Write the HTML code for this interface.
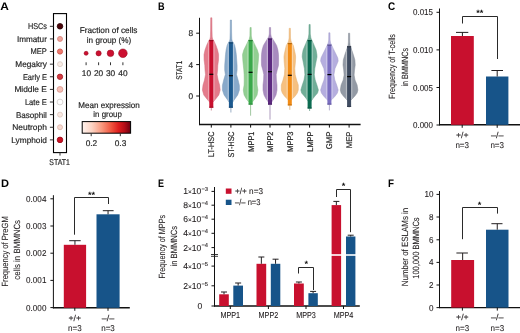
<!DOCTYPE html>
<html><head><meta charset="utf-8"><style>
html,body{margin:0;padding:0;background:#fff;width:520px;height:333px;overflow:hidden}
svg{display:block;will-change:transform}
text{font-family:"Liberation Sans", sans-serif;text-rendering:geometricPrecision}
</style></head><body>
<svg width="520" height="333" viewBox="0 0 520 333">
<rect width="520" height="333" fill="#fff"/>
<text x="0.20" y="9.70" font-size="11" text-anchor="start" fill="#000" font-weight="bold" textLength="8.6" lengthAdjust="spacingAndGlyphs" >A</text>
<text x="158.10" y="9.70" font-size="11" text-anchor="start" fill="#000" font-weight="bold" textLength="6.6" lengthAdjust="spacingAndGlyphs" >B</text>
<text x="388.10" y="9.70" font-size="11" text-anchor="start" fill="#000" font-weight="bold" textLength="7.2" lengthAdjust="spacingAndGlyphs" >C</text>
<text x="0.90" y="186.60" font-size="11" text-anchor="start" fill="#000" font-weight="bold" textLength="8.0" lengthAdjust="spacingAndGlyphs" >D</text>
<text x="158.10" y="186.60" font-size="11" text-anchor="start" fill="#000" font-weight="bold" textLength="6.0" lengthAdjust="spacingAndGlyphs" >E</text>
<text x="388.10" y="186.60" font-size="11" text-anchor="start" fill="#000" font-weight="bold" textLength="6.0" lengthAdjust="spacingAndGlyphs" >F</text>
<rect x="53.5" y="13.6" width="13.0" height="139.0" fill="none" stroke="#000" stroke-width="1.1"/>
<line x1="49.90" y1="26.30" x2="53.50" y2="26.30" stroke="#333" stroke-width="1.0"/>
<text x="46.90" y="29.20" font-size="8.3" text-anchor="end" fill="#252525" textLength="19.0" lengthAdjust="spacingAndGlyphs" stroke="#252525" stroke-width="0.18" >HSCs</text>
<circle cx="60.0" cy="26.30" r="2.8" fill="#4a0509" stroke="#2a0205" stroke-width="0.8"/>
<line x1="49.90" y1="38.92" x2="53.50" y2="38.92" stroke="#333" stroke-width="1.0"/>
<text x="46.90" y="41.82" font-size="8.3" text-anchor="end" fill="#252525" textLength="30.0" lengthAdjust="spacingAndGlyphs" stroke="#252525" stroke-width="0.18" >Immatur</text>
<circle cx="60.0" cy="38.92" r="2.5" fill="#eea59c" stroke="#d47c74" stroke-width="0.8"/>
<line x1="49.90" y1="51.54" x2="53.50" y2="51.54" stroke="#333" stroke-width="1.0"/>
<text x="46.90" y="54.44" font-size="8.3" text-anchor="end" fill="#252525" textLength="16.3" lengthAdjust="spacingAndGlyphs" stroke="#252525" stroke-width="0.18" >MEP</text>
<circle cx="60.0" cy="51.54" r="2.6" fill="#ee7a6e" stroke="#cc5248" stroke-width="0.8"/>
<line x1="49.90" y1="64.16" x2="53.50" y2="64.16" stroke="#333" stroke-width="1.0"/>
<text x="46.90" y="67.06" font-size="8.3" text-anchor="end" fill="#252525" textLength="31.6" lengthAdjust="spacingAndGlyphs" stroke="#252525" stroke-width="0.18" >Megakry</text>
<circle cx="60.0" cy="64.16" r="2.5" fill="#f8ede6" stroke="#d8c8c0" stroke-width="0.8"/>
<line x1="49.90" y1="76.78" x2="53.50" y2="76.78" stroke="#333" stroke-width="1.0"/>
<text x="46.90" y="79.68" font-size="8.3" text-anchor="end" fill="#252525" textLength="24.0" lengthAdjust="spacingAndGlyphs" stroke="#252525" stroke-width="0.18" >Early E</text>
<circle cx="60.0" cy="76.78" r="2.7" fill="#d23a40" stroke="#a41e26" stroke-width="0.8"/>
<line x1="49.90" y1="89.40" x2="53.50" y2="89.40" stroke="#333" stroke-width="1.0"/>
<text x="46.90" y="92.30" font-size="8.3" text-anchor="end" fill="#252525" textLength="32.5" lengthAdjust="spacingAndGlyphs" stroke="#252525" stroke-width="0.18" >Middle E</text>
<circle cx="60.0" cy="89.40" r="2.9" fill="#f4c0b6" stroke="#d8948a" stroke-width="0.8"/>
<line x1="49.90" y1="102.02" x2="53.50" y2="102.02" stroke="#333" stroke-width="1.0"/>
<text x="46.90" y="104.92" font-size="8.3" text-anchor="end" fill="#252525" textLength="22.0" lengthAdjust="spacingAndGlyphs" stroke="#252525" stroke-width="0.18" >Late E</text>
<circle cx="60.0" cy="102.02" r="2.9" fill="#ffffff" stroke="#cfcac8" stroke-width="0.8"/>
<line x1="49.90" y1="114.64" x2="53.50" y2="114.64" stroke="#333" stroke-width="1.0"/>
<text x="46.90" y="117.54" font-size="8.3" text-anchor="end" fill="#252525" textLength="31.0" lengthAdjust="spacingAndGlyphs" stroke="#252525" stroke-width="0.18" >Basophil</text>
<circle cx="60.0" cy="114.64" r="2.5" fill="#f9e9e2" stroke="#dcc6bd" stroke-width="0.8"/>
<line x1="49.90" y1="127.26" x2="53.50" y2="127.26" stroke="#333" stroke-width="1.0"/>
<text x="46.90" y="130.16" font-size="8.3" text-anchor="end" fill="#252525" textLength="34.6" lengthAdjust="spacingAndGlyphs" stroke="#252525" stroke-width="0.18" >Neutroph</text>
<circle cx="60.0" cy="127.26" r="2.5" fill="#f6dbd2" stroke="#ddb2a6" stroke-width="0.8"/>
<line x1="49.90" y1="139.88" x2="53.50" y2="139.88" stroke="#333" stroke-width="1.0"/>
<text x="46.90" y="142.78" font-size="8.3" text-anchor="end" fill="#252525" textLength="35.6" lengthAdjust="spacingAndGlyphs" stroke="#252525" stroke-width="0.18" >Lymphoid</text>
<circle cx="60.0" cy="139.88" r="2.8" fill="#cc1224" stroke="#940a18" stroke-width="0.8"/>
<line x1="60.00" y1="152.60" x2="60.00" y2="155.60" stroke="#333" stroke-width="1.0"/>
<text x="59.60" y="165.00" font-size="8.3" text-anchor="middle" fill="#252525" textLength="20.5" lengthAdjust="spacingAndGlyphs" stroke="#252525" stroke-width="0.18" >STAT1</text>
<text x="108.60" y="33.20" font-size="8.3" text-anchor="middle" fill="#252525" textLength="57.7" lengthAdjust="spacingAndGlyphs" stroke="#252525" stroke-width="0.18" >Fraction of cells</text>
<text x="109.00" y="42.90" font-size="8.3" text-anchor="middle" fill="#252525" textLength="44.4" lengthAdjust="spacingAndGlyphs" stroke="#252525" stroke-width="0.18" >in group (%)</text>
<circle cx="86.1" cy="53.3" r="2.0" fill="#cc1030" stroke="#9a0a20" stroke-width="0.6"/>
<line x1="86.10" y1="62.30" x2="86.10" y2="65.20" stroke="#333" stroke-width="1.0"/>
<circle cx="98.6" cy="53.3" r="2.6" fill="#cc1030" stroke="#9a0a20" stroke-width="0.6"/>
<line x1="98.60" y1="62.30" x2="98.60" y2="65.20" stroke="#333" stroke-width="1.0"/>
<circle cx="110.5" cy="53.3" r="3.3" fill="#cc1030" stroke="#9a0a20" stroke-width="0.6"/>
<line x1="110.50" y1="62.30" x2="110.50" y2="65.20" stroke="#333" stroke-width="1.0"/>
<circle cx="122.9" cy="53.3" r="4.3" fill="#cc1030" stroke="#9a0a20" stroke-width="0.6"/>
<line x1="122.90" y1="62.30" x2="122.90" y2="65.20" stroke="#333" stroke-width="1.0"/>
<text x="86.40" y="75.50" font-size="8.3" text-anchor="middle" fill="#252525" stroke="#252525" stroke-width="0.18" >10</text>
<text x="98.60" y="75.50" font-size="8.3" text-anchor="middle" fill="#252525" stroke="#252525" stroke-width="0.18" >20</text>
<text x="110.50" y="75.50" font-size="8.3" text-anchor="middle" fill="#252525" stroke="#252525" stroke-width="0.18" >30</text>
<text x="122.90" y="75.50" font-size="8.3" text-anchor="middle" fill="#252525" stroke="#252525" stroke-width="0.18" >40</text>
<text x="109.00" y="107.90" font-size="8.3" text-anchor="middle" fill="#252525" textLength="61.5" lengthAdjust="spacingAndGlyphs" stroke="#252525" stroke-width="0.18" >Mean expression</text>
<text x="107.60" y="116.90" font-size="8.3" text-anchor="middle" fill="#252525" textLength="28.5" lengthAdjust="spacingAndGlyphs" stroke="#252525" stroke-width="0.18" >in group</text>
<defs><linearGradient id="cb" x1="0" x2="1" y1="0" y2="0"><stop offset="0" stop-color="#fff3ee"/><stop offset="0.2" stop-color="#fcd3c3"/><stop offset="0.4" stop-color="#f99a80"/><stop offset="0.6" stop-color="#f0553f"/><stop offset="0.75" stop-color="#de1e1e"/><stop offset="0.88" stop-color="#b30c17"/><stop offset="1" stop-color="#6a0010"/></linearGradient></defs>
<rect x="82.2" y="121.6" width="48.4" height="11.6" fill="url(#cb)" stroke="#000" stroke-width="1.0"/>
<line x1="91.20" y1="133.40" x2="91.20" y2="136.20" stroke="#333" stroke-width="1.0"/>
<line x1="120.30" y1="133.40" x2="120.30" y2="136.20" stroke="#333" stroke-width="1.0"/>
<text x="91.40" y="146.00" font-size="8.3" text-anchor="middle" fill="#252525" stroke="#252525" stroke-width="0.18" >0.2</text>
<text x="120.50" y="146.00" font-size="8.3" text-anchor="middle" fill="#252525" stroke="#252525" stroke-width="0.18" >0.3</text>
<line x1="199.50" y1="17.80" x2="199.50" y2="125.10" stroke="#111" stroke-width="1.0"/>
<line x1="199.00" y1="124.60" x2="360.60" y2="124.60" stroke="#111" stroke-width="1.5"/>
<line x1="196.20" y1="96.00" x2="199.50" y2="96.00" stroke="#111" stroke-width="1.0"/>
<text x="193.20" y="99.00" font-size="8.3" text-anchor="end" fill="#252525" stroke="#252525" stroke-width="0.18" >0</text>
<line x1="196.20" y1="64.60" x2="199.50" y2="64.60" stroke="#111" stroke-width="1.0"/>
<text x="193.20" y="67.60" font-size="8.3" text-anchor="end" fill="#252525" stroke="#252525" stroke-width="0.18" >4</text>
<line x1="196.20" y1="33.20" x2="199.50" y2="33.20" stroke="#111" stroke-width="1.0"/>
<text x="193.20" y="36.20" font-size="8.3" text-anchor="end" fill="#252525" stroke="#252525" stroke-width="0.18" >8</text>
<text x="182.30" y="70.30" font-size="8.3" text-anchor="middle" fill="#252525" textLength="19" lengthAdjust="spacingAndGlyphs" transform="rotate(-90 182.30 70.30)" stroke="#252525" stroke-width="0.18" >STAT1</text>
<clipPath id="vc0"><polygon points="211.90,17.80 212.00,30.00 212.20,37.00 212.60,39.00 213.70,40.50 216.00,45.40 217.60,50.00 218.60,54.60 218.50,60.00 217.80,65.40 217.60,70.00 217.10,74.60 218.10,80.00 219.60,85.00 220.20,90.00 218.80,95.00 215.50,99.20 213.50,101.50 211.90,103.00 210.70,103.00 209.10,101.50 207.10,99.20 203.80,95.00 202.40,90.00 203.00,85.00 204.50,80.00 205.50,74.60 205.00,70.00 204.80,65.40 204.10,60.00 204.00,54.60 205.00,50.00 206.60,45.40 208.90,40.50 210.00,39.00 210.40,37.00 210.60,30.00 210.70,17.80"/></clipPath>
<polygon points="211.90,17.80 212.00,30.00 212.20,37.00 212.60,39.00 213.70,40.50 216.00,45.40 217.60,50.00 218.60,54.60 218.50,60.00 217.80,65.40 217.60,70.00 217.10,74.60 218.10,80.00 219.60,85.00 220.20,90.00 218.80,95.00 215.50,99.20 213.50,101.50 211.90,103.00 210.70,103.00 209.10,101.50 207.10,99.20 203.80,95.00 202.40,90.00 203.00,85.00 204.50,80.00 205.50,74.60 205.00,70.00 204.80,65.40 204.10,60.00 204.00,54.60 205.00,50.00 206.60,45.40 208.90,40.50 210.00,39.00 210.40,37.00 210.60,30.00 210.70,17.80" fill="#e47b8b" stroke="#d1717f" stroke-width="0.5" stroke-linejoin="round"/>
<rect x="208.10" y="40.00" width="6.4" height="67.70" fill="#eda9b3" clip-path="url(#vc0)"/>
<line x1="211.30" y1="107.70" x2="211.30" y2="110.50" stroke="#ca7784" stroke-width="0.8"/>
<rect x="209.30" y="40.00" width="4.00" height="67.70" fill="#c8102e" />
<rect x="209.30" y="40.00" width="4.00" height="1.20" fill="#960c22" />
<rect x="209.30" y="106.70" width="4.00" height="1.00" fill="#a00c24" />
<line x1="209.30" y1="74.30" x2="213.30" y2="74.30" stroke="#000" stroke-width="1.2"/>
<line x1="211.30" y1="124.60" x2="211.30" y2="127.60" stroke="#111" stroke-width="1.0"/>
<text x="214.20" y="131.50" font-size="8.3" text-anchor="end" fill="#252525" textLength="25.5" lengthAdjust="spacingAndGlyphs" transform="rotate(-90 214.20 131.50)" stroke="#252525" stroke-width="0.18" >LT-HSC</text>
<clipPath id="vc1"><polygon points="231.50,20.00 231.60,32.00 231.80,39.00 232.20,41.00 233.30,42.50 234.70,45.40 235.70,50.00 236.30,54.60 236.70,60.00 237.10,65.40 237.10,70.00 236.50,74.60 238.10,80.00 239.40,85.40 239.40,90.00 237.70,95.00 234.70,99.20 232.70,102.00 231.50,103.50 230.30,103.50 229.10,102.00 227.10,99.20 224.10,95.00 222.40,90.00 222.40,85.40 223.70,80.00 225.30,74.60 224.70,70.00 224.70,65.40 225.10,60.00 225.50,54.60 226.10,50.00 227.10,45.40 228.50,42.50 229.60,41.00 230.00,39.00 230.20,32.00 230.30,20.00"/></clipPath>
<polygon points="231.50,20.00 231.60,32.00 231.80,39.00 232.20,41.00 233.30,42.50 234.70,45.40 235.70,50.00 236.30,54.60 236.70,60.00 237.10,65.40 237.10,70.00 236.50,74.60 238.10,80.00 239.40,85.40 239.40,90.00 237.70,95.00 234.70,99.20 232.70,102.00 231.50,103.50 230.30,103.50 229.10,102.00 227.10,99.20 224.10,95.00 222.40,90.00 222.40,85.40 223.70,80.00 225.30,74.60 224.70,70.00 224.70,65.40 225.10,60.00 225.50,54.60 226.10,50.00 227.10,45.40 228.50,42.50 229.60,41.00 230.00,39.00 230.20,32.00 230.30,20.00" fill="#88a9ca" stroke="#7d9bb9" stroke-width="0.5" stroke-linejoin="round"/>
<rect x="227.70" y="42.30" width="6.4" height="65.40" fill="#b1c7dc" clip-path="url(#vc1)"/>
<line x1="230.90" y1="107.70" x2="230.90" y2="112.50" stroke="#819bb6" stroke-width="0.8"/>
<rect x="228.90" y="42.30" width="4.00" height="65.40" fill="#1d5a8f" />
<rect x="228.90" y="42.30" width="4.00" height="1.20" fill="#15436b" />
<rect x="228.90" y="106.70" width="4.00" height="1.00" fill="#174872" />
<line x1="228.90" y1="75.70" x2="232.90" y2="75.70" stroke="#000" stroke-width="1.2"/>
<line x1="230.90" y1="124.60" x2="230.90" y2="127.60" stroke="#111" stroke-width="1.0"/>
<text x="233.80" y="131.50" font-size="8.3" text-anchor="end" fill="#252525" textLength="26.0" lengthAdjust="spacingAndGlyphs" transform="rotate(-90 233.80 131.50)" stroke="#252525" stroke-width="0.18" >ST-HSC</text>
<clipPath id="vc2"><polygon points="251.20,27.50 251.30,36.00 251.90,39.00 253.00,41.00 255.20,45.40 257.40,50.00 258.70,54.60 258.40,60.00 257.90,65.40 257.40,70.00 257.10,74.60 257.00,80.00 257.10,85.00 257.90,90.00 257.10,95.00 254.80,99.00 252.80,101.50 251.40,103.00 249.80,103.00 248.40,101.50 246.40,99.00 244.10,95.00 243.30,90.00 244.10,85.00 244.20,80.00 244.10,74.60 243.80,70.00 243.30,65.40 242.80,60.00 242.50,54.60 243.80,50.00 246.00,45.40 248.20,41.00 249.30,39.00 249.90,36.00 250.00,27.50"/></clipPath>
<polygon points="251.20,27.50 251.30,36.00 251.90,39.00 253.00,41.00 255.20,45.40 257.40,50.00 258.70,54.60 258.40,60.00 257.90,65.40 257.40,70.00 257.10,74.60 257.00,80.00 257.10,85.00 257.90,90.00 257.10,95.00 254.80,99.00 252.80,101.50 251.40,103.00 249.80,103.00 248.40,101.50 246.40,99.00 244.10,95.00 243.30,90.00 244.10,85.00 244.20,80.00 244.10,74.60 243.80,70.00 243.30,65.40 242.80,60.00 242.50,54.60 243.80,50.00 246.00,45.40 248.20,41.00 249.30,39.00 249.90,36.00 250.00,27.50" fill="#92cf92" stroke="#86be86" stroke-width="0.5" stroke-linejoin="round"/>
<rect x="247.40" y="40.00" width="6.4" height="64.60" fill="#b8dfb8" clip-path="url(#vc2)"/>
<line x1="250.60" y1="104.60" x2="250.60" y2="115.70" stroke="#89b989" stroke-width="0.8"/>
<rect x="248.60" y="40.00" width="4.00" height="64.60" fill="#3aa94b" />
<rect x="248.60" y="40.00" width="4.00" height="1.20" fill="#2b7e38" />
<rect x="248.60" y="103.60" width="4.00" height="1.00" fill="#2e873c" />
<line x1="248.60" y1="72.30" x2="252.60" y2="72.30" stroke="#000" stroke-width="1.2"/>
<line x1="250.60" y1="124.60" x2="250.60" y2="127.60" stroke="#111" stroke-width="1.0"/>
<text x="253.50" y="131.50" font-size="8.3" text-anchor="end" fill="#252525" textLength="20.2" lengthAdjust="spacingAndGlyphs" transform="rotate(-90 253.50 131.50)" stroke="#252525" stroke-width="0.18" >MPP1</text>
<clipPath id="vc3"><polygon points="270.60,27.50 270.70,34.00 271.30,37.00 273.00,39.50 276.60,45.40 277.90,50.00 278.50,54.60 278.60,60.00 278.50,65.40 277.20,70.00 276.20,74.60 276.40,80.00 277.00,85.00 277.00,90.00 276.00,95.00 273.90,99.00 272.00,101.50 270.80,103.00 269.20,103.00 268.00,101.50 266.10,99.00 264.00,95.00 263.00,90.00 263.00,85.00 263.60,80.00 263.80,74.60 262.80,70.00 261.50,65.40 261.40,60.00 261.50,54.60 262.10,50.00 263.40,45.40 267.00,39.50 268.70,37.00 269.30,34.00 269.40,27.50"/></clipPath>
<polygon points="270.60,27.50 270.70,34.00 271.30,37.00 273.00,39.50 276.60,45.40 277.90,50.00 278.50,54.60 278.60,60.00 278.50,65.40 277.20,70.00 276.20,74.60 276.40,80.00 277.00,85.00 277.00,90.00 276.00,95.00 273.90,99.00 272.00,101.50 270.80,103.00 269.20,103.00 268.00,101.50 266.10,99.00 264.00,95.00 263.00,90.00 263.00,85.00 263.60,80.00 263.80,74.60 262.80,70.00 261.50,65.40 261.40,60.00 261.50,54.60 262.10,50.00 263.40,45.40 267.00,39.50 268.70,37.00 269.30,34.00 269.40,27.50" fill="#a88bbf" stroke="#9a7faf" stroke-width="0.5" stroke-linejoin="round"/>
<rect x="266.80" y="38.50" width="6.4" height="66.10" fill="#c6b3d5" clip-path="url(#vc3)"/>
<line x1="270.00" y1="104.60" x2="270.00" y2="119.60" stroke="#9a84ad" stroke-width="0.8"/>
<rect x="268.00" y="38.50" width="4.00" height="66.10" fill="#5c2a7f" />
<rect x="268.00" y="38.50" width="4.00" height="1.20" fill="#451f5f" />
<rect x="268.00" y="103.60" width="4.00" height="1.00" fill="#492165" />
<line x1="268.00" y1="71.70" x2="272.00" y2="71.70" stroke="#000" stroke-width="1.2"/>
<line x1="270.00" y1="124.60" x2="270.00" y2="127.60" stroke="#111" stroke-width="1.0"/>
<text x="272.90" y="131.50" font-size="8.3" text-anchor="end" fill="#252525" textLength="20.2" lengthAdjust="spacingAndGlyphs" transform="rotate(-90 272.90 131.50)" stroke="#252525" stroke-width="0.18" >MPP2</text>
<clipPath id="vc4"><polygon points="290.40,28.30 290.50,38.00 291.00,41.00 291.80,43.00 293.30,45.40 294.40,50.00 295.40,54.60 295.65,57.00 295.40,62.00 294.80,68.50 295.20,74.80 296.60,80.00 298.30,85.00 298.30,90.00 297.30,93.00 295.20,96.00 292.80,98.50 291.00,100.00 290.40,101.00 289.20,101.00 288.60,100.00 286.80,98.50 284.40,96.00 282.30,93.00 281.30,90.00 281.30,85.00 283.00,80.00 284.40,74.80 284.80,68.50 284.20,62.00 283.95,57.00 284.20,54.60 285.20,50.00 286.30,45.40 287.80,43.00 288.60,41.00 289.10,38.00 289.20,28.30"/></clipPath>
<polygon points="290.40,28.30 290.50,38.00 291.00,41.00 291.80,43.00 293.30,45.40 294.40,50.00 295.40,54.60 295.65,57.00 295.40,62.00 294.80,68.50 295.20,74.80 296.60,80.00 298.30,85.00 298.30,90.00 297.30,93.00 295.20,96.00 292.80,98.50 291.00,100.00 290.40,101.00 289.20,101.00 288.60,100.00 286.80,98.50 284.40,96.00 282.30,93.00 281.30,90.00 281.30,85.00 283.00,80.00 284.40,74.80 284.80,68.50 284.20,62.00 283.95,57.00 284.20,54.60 285.20,50.00 286.30,45.40 287.80,43.00 288.60,41.00 289.10,38.00 289.20,28.30" fill="#f6c080" stroke="#e2b075" stroke-width="0.5" stroke-linejoin="round"/>
<rect x="286.60" y="43.00" width="6.4" height="62.40" fill="#f9d6ac" clip-path="url(#vc4)"/>
<line x1="289.80" y1="105.40" x2="289.80" y2="109.80" stroke="#d8ae7b" stroke-width="0.8"/>
<rect x="287.80" y="43.00" width="4.00" height="62.40" fill="#f28c16" />
<rect x="287.80" y="43.00" width="4.00" height="1.20" fill="#b56910" />
<rect x="287.80" y="104.40" width="4.00" height="1.00" fill="#c17011" />
<line x1="287.80" y1="75.30" x2="291.80" y2="75.30" stroke="#000" stroke-width="1.2"/>
<line x1="289.80" y1="124.60" x2="289.80" y2="127.60" stroke="#111" stroke-width="1.0"/>
<text x="292.70" y="131.50" font-size="8.3" text-anchor="end" fill="#252525" textLength="20.2" lengthAdjust="spacingAndGlyphs" transform="rotate(-90 292.70 131.50)" stroke="#252525" stroke-width="0.18" >MPP3</text>
<clipPath id="vc5"><polygon points="310.20,24.50 310.30,34.00 310.90,38.00 312.00,40.50 314.20,45.40 316.10,50.00 316.90,54.60 317.00,57.00 316.00,62.00 314.80,68.50 314.30,74.80 315.20,80.00 316.90,85.00 318.40,90.00 317.60,93.00 315.00,96.00 312.60,99.00 310.80,101.50 310.20,102.50 309.00,102.50 308.40,101.50 306.60,99.00 304.20,96.00 301.60,93.00 300.80,90.00 302.30,85.00 304.00,80.00 304.90,74.80 304.40,68.50 303.20,62.00 302.20,57.00 302.30,54.60 303.10,50.00 305.00,45.40 307.20,40.50 308.30,38.00 308.90,34.00 309.00,24.50"/></clipPath>
<polygon points="310.20,24.50 310.30,34.00 310.90,38.00 312.00,40.50 314.20,45.40 316.10,50.00 316.90,54.60 317.00,57.00 316.00,62.00 314.80,68.50 314.30,74.80 315.20,80.00 316.90,85.00 318.40,90.00 317.60,93.00 315.00,96.00 312.60,99.00 310.80,101.50 310.20,102.50 309.00,102.50 308.40,101.50 306.60,99.00 304.20,96.00 301.60,93.00 300.80,90.00 302.30,85.00 304.00,80.00 304.90,74.80 304.40,68.50 303.20,62.00 302.20,57.00 302.30,54.60 303.10,50.00 305.00,45.40 307.20,40.50 308.30,38.00 308.90,34.00 309.00,24.50" fill="#71ae98" stroke="#67a08b" stroke-width="0.5" stroke-linejoin="round"/>
<rect x="306.40" y="40.00" width="6.4" height="68.50" fill="#a2cabc" clip-path="url(#vc5)"/>
<line x1="309.60" y1="108.50" x2="309.60" y2="111.00" stroke="#6fa08e" stroke-width="0.8"/>
<rect x="307.60" y="40.00" width="4.00" height="68.50" fill="#0d6c52" />
<rect x="307.60" y="40.00" width="4.00" height="1.20" fill="#09513d" />
<rect x="307.60" y="107.50" width="4.00" height="1.00" fill="#0a5641" />
<line x1="307.60" y1="74.40" x2="311.60" y2="74.40" stroke="#000" stroke-width="1.2"/>
<line x1="309.60" y1="124.60" x2="309.60" y2="127.60" stroke="#111" stroke-width="1.0"/>
<text x="312.50" y="131.50" font-size="8.3" text-anchor="end" fill="#252525" textLength="20.2" lengthAdjust="spacingAndGlyphs" transform="rotate(-90 312.50 131.50)" stroke="#252525" stroke-width="0.18" >LMPP</text>
<clipPath id="vc6"><polygon points="330.00,32.80 330.10,40.00 330.60,43.00 331.70,45.40 333.90,50.00 336.20,54.60 337.80,58.00 338.20,61.00 337.00,64.00 335.00,68.50 333.90,74.80 334.80,80.00 336.70,85.00 338.20,90.00 337.40,93.00 335.20,96.00 332.40,99.00 330.60,100.50 330.00,101.50 328.80,101.50 328.20,100.50 326.40,99.00 323.60,96.00 321.40,93.00 320.60,90.00 322.10,85.00 324.00,80.00 324.90,74.80 323.80,68.50 321.80,64.00 320.60,61.00 321.00,58.00 322.60,54.60 324.90,50.00 327.10,45.40 328.20,43.00 328.70,40.00 328.80,32.80"/></clipPath>
<polygon points="330.00,32.80 330.10,40.00 330.60,43.00 331.70,45.40 333.90,50.00 336.20,54.60 337.80,58.00 338.20,61.00 337.00,64.00 335.00,68.50 333.90,74.80 334.80,80.00 336.70,85.00 338.20,90.00 337.40,93.00 335.20,96.00 332.40,99.00 330.60,100.50 330.00,101.50 328.80,101.50 328.20,100.50 326.40,99.00 323.60,96.00 321.40,93.00 320.60,90.00 322.10,85.00 324.00,80.00 324.90,74.80 323.80,68.50 321.80,64.00 320.60,61.00 321.00,58.00 322.60,54.60 324.90,50.00 327.10,45.40 328.20,43.00 328.70,40.00 328.80,32.80" fill="#b5aedf" stroke="#a6a0cd" stroke-width="0.5" stroke-linejoin="round"/>
<rect x="326.20" y="44.60" width="6.4" height="60.00" fill="#cecaea" clip-path="url(#vc6)"/>
<line x1="329.40" y1="104.60" x2="329.40" y2="110.40" stroke="#a5a0c6" stroke-width="0.8"/>
<rect x="327.40" y="44.60" width="4.00" height="60.00" fill="#7b6fc1" />
<rect x="327.40" y="44.60" width="4.00" height="1.20" fill="#5c5390" />
<rect x="327.40" y="103.60" width="4.00" height="1.00" fill="#62589a" />
<line x1="327.40" y1="74.60" x2="331.40" y2="74.60" stroke="#000" stroke-width="1.2"/>
<line x1="329.40" y1="124.60" x2="329.40" y2="127.60" stroke="#111" stroke-width="1.0"/>
<text x="332.30" y="131.50" font-size="8.3" text-anchor="end" fill="#252525" textLength="17.8" lengthAdjust="spacingAndGlyphs" transform="rotate(-90 332.30 131.50)" stroke="#252525" stroke-width="0.18" >GMP</text>
<clipPath id="vc7"><polygon points="349.70,33.20 349.80,42.00 350.10,45.00 350.70,47.00 351.70,50.00 353.30,54.60 354.90,60.00 355.20,65.00 354.50,70.00 354.10,75.00 355.00,80.00 357.10,85.00 357.90,90.00 357.10,93.00 354.90,96.00 352.10,99.00 350.30,100.50 349.70,101.50 348.50,101.50 347.90,100.50 346.10,99.00 343.30,96.00 341.10,93.00 340.30,90.00 341.10,85.00 343.20,80.00 344.10,75.00 343.70,70.00 343.00,65.00 343.30,60.00 344.90,54.60 346.50,50.00 347.50,47.00 348.10,45.00 348.40,42.00 348.50,33.20"/></clipPath>
<polygon points="349.70,33.20 349.80,42.00 350.10,45.00 350.70,47.00 351.70,50.00 353.30,54.60 354.90,60.00 355.20,65.00 354.50,70.00 354.10,75.00 355.00,80.00 357.10,85.00 357.90,90.00 357.10,93.00 354.90,96.00 352.10,99.00 350.30,100.50 349.70,101.50 348.50,101.50 347.90,100.50 346.10,99.00 343.30,96.00 341.10,93.00 340.30,90.00 341.10,85.00 343.20,80.00 344.10,75.00 343.70,70.00 343.00,65.00 343.30,60.00 344.90,54.60 346.50,50.00 347.50,47.00 348.10,45.00 348.40,42.00 348.50,33.20" fill="#939aa5" stroke="#878d97" stroke-width="0.5" stroke-linejoin="round"/>
<rect x="345.90" y="46.20" width="6.4" height="60.70" fill="#b8bdc4" clip-path="url(#vc7)"/>
<line x1="349.10" y1="106.90" x2="349.10" y2="107.50" stroke="#8a9099" stroke-width="0.8"/>
<rect x="347.10" y="46.20" width="4.00" height="60.70" fill="#414d62" />
<rect x="347.10" y="46.20" width="4.00" height="1.20" fill="#303949" />
<rect x="347.10" y="105.90" width="4.00" height="1.00" fill="#343d4e" />
<line x1="347.10" y1="76.60" x2="351.10" y2="76.60" stroke="#000" stroke-width="1.2"/>
<line x1="349.10" y1="124.60" x2="349.10" y2="127.60" stroke="#111" stroke-width="1.0"/>
<text x="352.00" y="131.50" font-size="8.3" text-anchor="end" fill="#252525" textLength="16.8" lengthAdjust="spacingAndGlyphs" transform="rotate(-90 352.00 131.50)" stroke="#252525" stroke-width="0.18" >MEP</text>
<line x1="439.50" y1="8.50" x2="439.50" y2="125.30" stroke="#111" stroke-width="1.0"/>
<line x1="439.00" y1="124.80" x2="520.50" y2="124.80" stroke="#111" stroke-width="1.4"/>
<line x1="436.50" y1="12.30" x2="439.50" y2="12.30" stroke="#111" stroke-width="1.0"/>
<text x="433.00" y="15.30" font-size="8.6" text-anchor="end" fill="#231f20" textLength="20" lengthAdjust="spacingAndGlyphs" stroke="#231f20" stroke-width="0.1" >0.015</text>
<line x1="436.50" y1="49.90" x2="439.50" y2="49.90" stroke="#111" stroke-width="1.0"/>
<text x="433.00" y="52.90" font-size="8.6" text-anchor="end" fill="#231f20" textLength="20" lengthAdjust="spacingAndGlyphs" stroke="#231f20" stroke-width="0.1" >0.010</text>
<line x1="436.50" y1="87.50" x2="439.50" y2="87.50" stroke="#111" stroke-width="1.0"/>
<text x="433.00" y="90.50" font-size="8.6" text-anchor="end" fill="#231f20" textLength="20" lengthAdjust="spacingAndGlyphs" stroke="#231f20" stroke-width="0.1" >0.005</text>
<line x1="436.50" y1="125.00" x2="439.50" y2="125.00" stroke="#111" stroke-width="1.0"/>
<text x="433.00" y="128.00" font-size="8.6" text-anchor="end" fill="#231f20" textLength="20" lengthAdjust="spacingAndGlyphs" stroke="#231f20" stroke-width="0.1" >0.000</text>
<rect x="451.00" y="36.00" width="22.80" height="88.80" fill="#c8102e" />
<line x1="462.40" y1="36.00" x2="462.40" y2="32.40" stroke="#231f20" stroke-width="1.0"/>
<line x1="456.00" y1="32.40" x2="468.30" y2="32.40" stroke="#231f20" stroke-width="1.0"/>
<rect x="486.00" y="76.50" width="22.40" height="48.30" fill="#175489" />
<line x1="497.20" y1="76.50" x2="497.20" y2="70.50" stroke="#231f20" stroke-width="1.0"/>
<line x1="491.40" y1="70.50" x2="503.00" y2="70.50" stroke="#231f20" stroke-width="1.0"/>
<polyline points="462.5,23.5 462.5,16.5 497.5,16.5 497.5,59.0" fill="none" stroke="#2a2a2a" stroke-width="1"/>
<text x="479.80" y="16.00" font-size="9.2" text-anchor="middle" fill="#111" font-weight="bold" >**</text>
<line x1="462.20" y1="124.80" x2="462.20" y2="127.80" stroke="#111" stroke-width="1.0"/>
<text x="462.20" y="137.60" font-size="8.6" text-anchor="middle" fill="#231f20" textLength="12.6" lengthAdjust="spacingAndGlyphs" stroke="#231f20" stroke-width="0.1" >+/+</text>
<text x="462.20" y="148.00" font-size="8.6" text-anchor="middle" fill="#231f20" textLength="13.6" lengthAdjust="spacingAndGlyphs" stroke="#231f20" stroke-width="0.1" >n=3</text>
<line x1="497.20" y1="124.80" x2="497.20" y2="127.80" stroke="#111" stroke-width="1.0"/>
<text x="497.20" y="137.60" font-size="8.6" text-anchor="middle" fill="#231f20" textLength="12.6" lengthAdjust="spacingAndGlyphs" stroke="#231f20" stroke-width="0.1" >–/–</text>
<text x="497.20" y="148.00" font-size="8.6" text-anchor="middle" fill="#231f20" textLength="13.6" lengthAdjust="spacingAndGlyphs" stroke="#231f20" stroke-width="0.1" >n=3</text>
<text x="395.40" y="66.40" font-size="9.0" text-anchor="middle" fill="#231f20" textLength="64.7" lengthAdjust="spacingAndGlyphs" transform="rotate(-90 395.40 66.40)" stroke="#231f20" stroke-width="0.1" >Frequency of T-cells</text>
<text x="407.70" y="67.20" font-size="9.0" text-anchor="middle" fill="#231f20" textLength="38.8" lengthAdjust="spacingAndGlyphs" transform="rotate(-90 407.70 67.20)" stroke="#231f20" stroke-width="0.1" >in BMMNCs</text>
<line x1="53.40" y1="195.20" x2="53.40" y2="308.30" stroke="#111" stroke-width="1.0"/>
<line x1="52.90" y1="307.80" x2="129.80" y2="307.80" stroke="#111" stroke-width="1.4"/>
<line x1="50.40" y1="198.80" x2="53.40" y2="198.80" stroke="#111" stroke-width="1.0"/>
<text x="46.40" y="201.80" font-size="8.6" text-anchor="end" fill="#231f20" textLength="20.3" lengthAdjust="spacingAndGlyphs" stroke="#231f20" stroke-width="0.1" >0.004</text>
<line x1="50.40" y1="226.00" x2="53.40" y2="226.00" stroke="#111" stroke-width="1.0"/>
<text x="46.40" y="229.00" font-size="8.6" text-anchor="end" fill="#231f20" textLength="20.3" lengthAdjust="spacingAndGlyphs" stroke="#231f20" stroke-width="0.1" >0.003</text>
<line x1="50.40" y1="253.20" x2="53.40" y2="253.20" stroke="#111" stroke-width="1.0"/>
<text x="46.40" y="256.20" font-size="8.6" text-anchor="end" fill="#231f20" textLength="20.3" lengthAdjust="spacingAndGlyphs" stroke="#231f20" stroke-width="0.1" >0.002</text>
<line x1="50.40" y1="280.40" x2="53.40" y2="280.40" stroke="#111" stroke-width="1.0"/>
<text x="46.40" y="283.40" font-size="8.6" text-anchor="end" fill="#231f20" textLength="20.3" lengthAdjust="spacingAndGlyphs" stroke="#231f20" stroke-width="0.1" >0.001</text>
<line x1="50.40" y1="307.60" x2="53.40" y2="307.60" stroke="#111" stroke-width="1.0"/>
<text x="46.40" y="310.60" font-size="8.6" text-anchor="end" fill="#231f20" textLength="20.3" lengthAdjust="spacingAndGlyphs" stroke="#231f20" stroke-width="0.1" >0.000</text>
<rect x="63.80" y="244.80" width="22.30" height="63.00" fill="#c8102e" />
<line x1="74.95" y1="244.80" x2="74.95" y2="240.70" stroke="#231f20" stroke-width="1.0"/>
<line x1="69.20" y1="240.70" x2="80.70" y2="240.70" stroke="#231f20" stroke-width="1.0"/>
<rect x="96.50" y="214.30" width="23.10" height="93.50" fill="#175489" />
<line x1="108.05" y1="214.30" x2="108.05" y2="210.70" stroke="#231f20" stroke-width="1.0"/>
<line x1="102.80" y1="210.70" x2="113.60" y2="210.70" stroke="#231f20" stroke-width="1.0"/>
<polyline points="74.5,234.7 74.5,197.5 108.5,197.5 108.5,204.0" fill="none" stroke="#2a2a2a" stroke-width="1"/>
<text x="91.50" y="197.70" font-size="9.2" text-anchor="middle" fill="#111" font-weight="bold" >**</text>
<line x1="74.80" y1="307.80" x2="74.80" y2="310.80" stroke="#111" stroke-width="1.0"/>
<text x="74.80" y="320.60" font-size="8.6" text-anchor="middle" fill="#231f20" textLength="12.6" lengthAdjust="spacingAndGlyphs" stroke="#231f20" stroke-width="0.1" >+/+</text>
<text x="74.80" y="331.00" font-size="8.6" text-anchor="middle" fill="#231f20" textLength="13.6" lengthAdjust="spacingAndGlyphs" stroke="#231f20" stroke-width="0.1" >n=3</text>
<line x1="108.00" y1="307.80" x2="108.00" y2="310.80" stroke="#111" stroke-width="1.0"/>
<text x="108.00" y="320.60" font-size="8.6" text-anchor="middle" fill="#231f20" textLength="12.6" lengthAdjust="spacingAndGlyphs" stroke="#231f20" stroke-width="0.1" >–/–</text>
<text x="108.00" y="331.00" font-size="8.6" text-anchor="middle" fill="#231f20" textLength="13.6" lengthAdjust="spacingAndGlyphs" stroke="#231f20" stroke-width="0.1" >n=3</text>
<text x="8.30" y="251.40" font-size="9.0" text-anchor="middle" fill="#231f20" textLength="70.2" lengthAdjust="spacingAndGlyphs" transform="rotate(-90 8.30 251.40)" stroke="#231f20" stroke-width="0.1" >Frequency of PreGM</text>
<text x="20.30" y="249.90" font-size="9.0" text-anchor="middle" fill="#231f20" textLength="59.8" lengthAdjust="spacingAndGlyphs" transform="rotate(-90 20.30 249.90)" stroke="#231f20" stroke-width="0.1" >cells in BMMNCs</text>
<line x1="439.50" y1="191.00" x2="439.50" y2="308.10" stroke="#111" stroke-width="1.0"/>
<line x1="439.00" y1="307.60" x2="520.50" y2="307.60" stroke="#111" stroke-width="1.4"/>
<line x1="436.50" y1="194.40" x2="439.50" y2="194.40" stroke="#111" stroke-width="1.0"/>
<text x="433.50" y="197.40" font-size="8.6" text-anchor="end" fill="#231f20" textLength="9.0" lengthAdjust="spacingAndGlyphs" stroke="#231f20" stroke-width="0.1" >10</text>
<line x1="436.50" y1="217.00" x2="439.50" y2="217.00" stroke="#111" stroke-width="1.0"/>
<text x="433.50" y="220.00" font-size="8.6" text-anchor="end" fill="#231f20" textLength="4.5" lengthAdjust="spacingAndGlyphs" stroke="#231f20" stroke-width="0.1" >8</text>
<line x1="436.50" y1="239.80" x2="439.50" y2="239.80" stroke="#111" stroke-width="1.0"/>
<text x="433.50" y="242.80" font-size="8.6" text-anchor="end" fill="#231f20" textLength="4.5" lengthAdjust="spacingAndGlyphs" stroke="#231f20" stroke-width="0.1" >6</text>
<line x1="436.50" y1="262.40" x2="439.50" y2="262.40" stroke="#111" stroke-width="1.0"/>
<text x="433.50" y="265.40" font-size="8.6" text-anchor="end" fill="#231f20" textLength="4.5" lengthAdjust="spacingAndGlyphs" stroke="#231f20" stroke-width="0.1" >4</text>
<line x1="436.50" y1="285.00" x2="439.50" y2="285.00" stroke="#111" stroke-width="1.0"/>
<text x="433.50" y="288.00" font-size="8.6" text-anchor="end" fill="#231f20" textLength="4.5" lengthAdjust="spacingAndGlyphs" stroke="#231f20" stroke-width="0.1" >2</text>
<line x1="436.50" y1="307.60" x2="439.50" y2="307.60" stroke="#111" stroke-width="1.0"/>
<text x="433.50" y="310.60" font-size="8.6" text-anchor="end" fill="#231f20" textLength="4.5" lengthAdjust="spacingAndGlyphs" stroke="#231f20" stroke-width="0.1" >0</text>
<rect x="451.20" y="260.00" width="22.90" height="47.60" fill="#c8102e" />
<line x1="462.65" y1="260.00" x2="462.65" y2="253.00" stroke="#231f20" stroke-width="1.0"/>
<line x1="456.40" y1="253.00" x2="467.90" y2="253.00" stroke="#231f20" stroke-width="1.0"/>
<rect x="486.00" y="229.70" width="22.50" height="77.90" fill="#175489" />
<line x1="497.25" y1="229.70" x2="497.25" y2="223.70" stroke="#231f20" stroke-width="1.0"/>
<line x1="491.40" y1="223.70" x2="502.50" y2="223.70" stroke="#231f20" stroke-width="1.0"/>
<polyline points="462.5,239.2 462.5,207.5 497.5,207.5 497.5,213.6" fill="none" stroke="#2a2a2a" stroke-width="1"/>
<text x="479.60" y="207.70" font-size="9.2" text-anchor="middle" fill="#111" font-weight="bold" >*</text>
<line x1="462.40" y1="307.60" x2="462.40" y2="310.60" stroke="#111" stroke-width="1.0"/>
<text x="462.40" y="320.40" font-size="8.6" text-anchor="middle" fill="#231f20" textLength="12.6" lengthAdjust="spacingAndGlyphs" stroke="#231f20" stroke-width="0.1" >+/+</text>
<text x="462.40" y="330.90" font-size="8.6" text-anchor="middle" fill="#231f20" textLength="13.6" lengthAdjust="spacingAndGlyphs" stroke="#231f20" stroke-width="0.1" >n=3</text>
<line x1="497.30" y1="307.60" x2="497.30" y2="310.60" stroke="#111" stroke-width="1.0"/>
<text x="497.30" y="320.40" font-size="8.6" text-anchor="middle" fill="#231f20" textLength="12.6" lengthAdjust="spacingAndGlyphs" stroke="#231f20" stroke-width="0.1" >–/–</text>
<text x="497.30" y="330.90" font-size="8.6" text-anchor="middle" fill="#231f20" textLength="13.6" lengthAdjust="spacingAndGlyphs" stroke="#231f20" stroke-width="0.1" >n=3</text>
<text x="407.50" y="247.00" font-size="9.0" text-anchor="middle" fill="#231f20" textLength="78.5" lengthAdjust="spacingAndGlyphs" transform="rotate(-90 407.50 247.00)" stroke="#231f20" stroke-width="0.1" >Number of ESLAMs in</text>
<text x="418.70" y="248.10" font-size="9.0" text-anchor="middle" fill="#231f20" textLength="61.3" lengthAdjust="spacingAndGlyphs" transform="rotate(-90 418.70 248.10)" stroke="#231f20" stroke-width="0.1" >100,000 BMMNCs</text>
<line x1="214.50" y1="187.00" x2="214.50" y2="306.50" stroke="#111" stroke-width="1.0"/>
<line x1="214.00" y1="306.00" x2="359.80" y2="306.00" stroke="#111" stroke-width="1.4"/>
<line x1="211.00" y1="254.50" x2="218.00" y2="254.50" stroke="#222" stroke-width="0.9"/>
<line x1="211.00" y1="256.30" x2="218.00" y2="256.30" stroke="#222" stroke-width="0.9"/>
<line x1="211.50" y1="191.40" x2="214.50" y2="191.40" stroke="#111" stroke-width="1.0"/>
<text x="208.00" y="194.40" font-size="8.6" text-anchor="end" fill="#231f20" stroke="#231f20" stroke-width="0.1">1<tspan font-size="6.5">×</tspan>10<tspan font-size="5.8" dy="-3.2">−3</tspan></text>
<line x1="211.50" y1="205.20" x2="214.50" y2="205.20" stroke="#111" stroke-width="1.0"/>
<text x="208.00" y="208.20" font-size="8.6" text-anchor="end" fill="#231f20" stroke="#231f20" stroke-width="0.1">8<tspan font-size="6.5">×</tspan>10<tspan font-size="5.8" dy="-3.2">−4</tspan></text>
<line x1="211.50" y1="219.20" x2="214.50" y2="219.20" stroke="#111" stroke-width="1.0"/>
<text x="208.00" y="222.20" font-size="8.6" text-anchor="end" fill="#231f20" stroke="#231f20" stroke-width="0.1">6<tspan font-size="6.5">×</tspan>10<tspan font-size="5.8" dy="-3.2">−4</tspan></text>
<line x1="211.50" y1="233.30" x2="214.50" y2="233.30" stroke="#111" stroke-width="1.0"/>
<text x="208.00" y="236.30" font-size="8.6" text-anchor="end" fill="#231f20" stroke="#231f20" stroke-width="0.1">4<tspan font-size="6.5">×</tspan>10<tspan font-size="5.8" dy="-3.2">−4</tspan></text>
<line x1="211.50" y1="247.60" x2="214.50" y2="247.60" stroke="#111" stroke-width="1.0"/>
<text x="208.00" y="250.60" font-size="8.6" text-anchor="end" fill="#231f20" stroke="#231f20" stroke-width="0.1">2<tspan font-size="6.5">×</tspan>10<tspan font-size="5.8" dy="-3.2">−4</tspan></text>
<line x1="211.50" y1="266.10" x2="214.50" y2="266.10" stroke="#111" stroke-width="1.0"/>
<text x="208.00" y="269.10" font-size="8.6" text-anchor="end" fill="#231f20" stroke="#231f20" stroke-width="0.1">4<tspan font-size="6.5">×</tspan>10<tspan font-size="5.8" dy="-3.2">−5</tspan></text>
<line x1="211.50" y1="285.80" x2="214.50" y2="285.80" stroke="#111" stroke-width="1.0"/>
<text x="208.00" y="288.80" font-size="8.6" text-anchor="end" fill="#231f20" stroke="#231f20" stroke-width="0.1">2<tspan font-size="6.5">×</tspan>10<tspan font-size="5.8" dy="-3.2">−5</tspan></text>
<line x1="211.50" y1="306.00" x2="214.50" y2="306.00" stroke="#111" stroke-width="1.0"/>
<text x="202.40" y="308.60" font-size="8.6" text-anchor="end" fill="#231f20" stroke="#231f20" stroke-width="0.1" >0</text>
<rect x="225.80" y="188.50" width="5.70" height="5.30" fill="#c8102e" />
<rect x="225.80" y="199.70" width="5.70" height="5.30" fill="#175489" />
<text x="235.00" y="194.20" font-size="8.6" text-anchor="start" fill="#231f20" textLength="28" lengthAdjust="spacingAndGlyphs" stroke="#231f20" stroke-width="0.1" >+/+ n=3</text>
<text x="235.00" y="205.40" font-size="8.6" text-anchor="start" fill="#231f20" textLength="25.5" lengthAdjust="spacingAndGlyphs" stroke="#231f20" stroke-width="0.1" >–/– n=3</text>
<rect x="219.20" y="294.30" width="9.60" height="11.70" fill="#c8102e" />
<line x1="224.00" y1="294.30" x2="224.00" y2="292.00" stroke="#231f20" stroke-width="1.0"/>
<line x1="221.00" y1="292.00" x2="227.00" y2="292.00" stroke="#231f20" stroke-width="1.0"/>
<rect x="233.30" y="285.60" width="9.70" height="20.40" fill="#175489" />
<line x1="238.15" y1="285.60" x2="238.15" y2="283.00" stroke="#231f20" stroke-width="1.0"/>
<line x1="235.15" y1="283.00" x2="241.15" y2="283.00" stroke="#231f20" stroke-width="1.0"/>
<rect x="256.50" y="263.80" width="9.70" height="42.20" fill="#c8102e" />
<line x1="261.35" y1="263.80" x2="261.35" y2="257.00" stroke="#231f20" stroke-width="1.0"/>
<line x1="258.35" y1="257.00" x2="264.35" y2="257.00" stroke="#231f20" stroke-width="1.0"/>
<rect x="270.80" y="263.80" width="9.50" height="42.20" fill="#175489" />
<line x1="275.55" y1="263.80" x2="275.55" y2="259.20" stroke="#231f20" stroke-width="1.0"/>
<line x1="272.55" y1="259.20" x2="278.55" y2="259.20" stroke="#231f20" stroke-width="1.0"/>
<rect x="294.00" y="283.50" width="9.80" height="22.50" fill="#c8102e" />
<line x1="298.90" y1="283.50" x2="298.90" y2="282.00" stroke="#231f20" stroke-width="1.0"/>
<line x1="295.90" y1="282.00" x2="301.90" y2="282.00" stroke="#231f20" stroke-width="1.0"/>
<rect x="308.40" y="293.20" width="9.40" height="12.80" fill="#175489" />
<line x1="313.10" y1="293.20" x2="313.10" y2="291.40" stroke="#231f20" stroke-width="1.0"/>
<line x1="310.10" y1="291.40" x2="316.10" y2="291.40" stroke="#231f20" stroke-width="1.0"/>
<rect x="331.60" y="205.10" width="9.50" height="100.90" fill="#c8102e" />
<line x1="336.35" y1="205.10" x2="336.35" y2="201.40" stroke="#231f20" stroke-width="1.0"/>
<line x1="333.35" y1="201.40" x2="339.35" y2="201.40" stroke="#231f20" stroke-width="1.0"/>
<rect x="346.00" y="236.50" width="9.40" height="69.50" fill="#175489" />
<line x1="350.70" y1="236.50" x2="350.70" y2="235.20" stroke="#231f20" stroke-width="1.0"/>
<line x1="347.70" y1="235.20" x2="353.70" y2="235.20" stroke="#231f20" stroke-width="1.0"/>
<rect x="330.50" y="254.20" width="26.00" height="1.60" fill="#fff" />
<polyline points="298.5,273.5 298.5,267.5 313.5,267.5 313.5,290" fill="none" stroke="#2a2a2a" stroke-width="1"/>
<text x="306.20" y="267.00" font-size="9.2" text-anchor="middle" fill="#111" font-weight="bold" >*</text>
<polyline points="336.5,197 336.5,189.5 350.5,189.5 350.5,232.2" fill="none" stroke="#2a2a2a" stroke-width="1"/>
<text x="343.50" y="189.00" font-size="9.2" text-anchor="middle" fill="#111" font-weight="bold" >*</text>
<line x1="230.30" y1="306.00" x2="230.30" y2="309.00" stroke="#111" stroke-width="1.0"/>
<text x="230.30" y="318.10" font-size="8.6" text-anchor="middle" fill="#231f20" textLength="19.7" lengthAdjust="spacingAndGlyphs" stroke="#231f20" stroke-width="0.1" >MPP1</text>
<line x1="268.40" y1="306.00" x2="268.40" y2="309.00" stroke="#111" stroke-width="1.0"/>
<text x="268.40" y="318.10" font-size="8.6" text-anchor="middle" fill="#231f20" textLength="19.7" lengthAdjust="spacingAndGlyphs" stroke="#231f20" stroke-width="0.1" >MPP2</text>
<line x1="306.00" y1="306.00" x2="306.00" y2="309.00" stroke="#111" stroke-width="1.0"/>
<text x="306.00" y="318.10" font-size="8.6" text-anchor="middle" fill="#231f20" textLength="19.7" lengthAdjust="spacingAndGlyphs" stroke="#231f20" stroke-width="0.1" >MPP3</text>
<line x1="343.50" y1="306.00" x2="343.50" y2="309.00" stroke="#111" stroke-width="1.0"/>
<text x="343.50" y="318.10" font-size="8.6" text-anchor="middle" fill="#231f20" textLength="19.7" lengthAdjust="spacingAndGlyphs" stroke="#231f20" stroke-width="0.1" >MPP4</text>
<text x="165.00" y="246.70" font-size="9.0" text-anchor="middle" fill="#231f20" textLength="63.7" lengthAdjust="spacingAndGlyphs" transform="rotate(-90 165.00 246.70)" stroke="#231f20" stroke-width="0.1" >Frequency of MPPs</text>
<text x="177.00" y="246.20" font-size="9.0" text-anchor="middle" fill="#231f20" textLength="40.5" lengthAdjust="spacingAndGlyphs" transform="rotate(-90 177.00 246.20)" stroke="#231f20" stroke-width="0.1" >in BMMNCs</text>
</svg>
</body></html>
